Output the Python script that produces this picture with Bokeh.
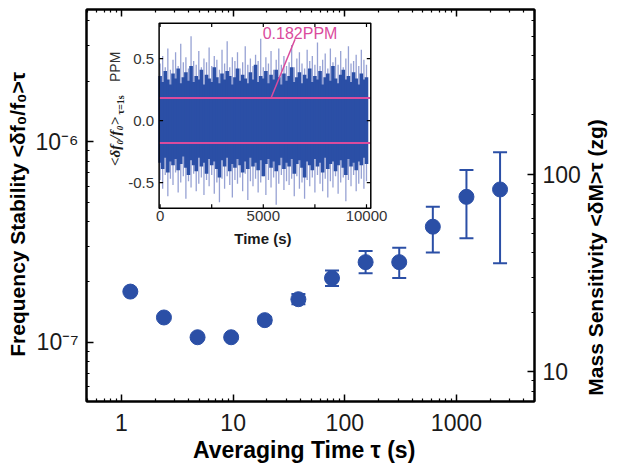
import math
from bokeh.plotting import figure
from bokeh.models import (LogAxis, Range1d, LinearScale, LogScale, FixedTicker,
                          CustomJSTickFormatter, Whisker, ColumnDataSource, TeeHead)
from bokeh.embed import file_html
from bokeh.resources import INLINE
from bokeh.core.properties import value

# ---------------- data ----------------
tau_s = [1.2, 2.4, 4.8, 9.6, 19.2, 38.4, 76.8, 153.6, 307.2, 614.4, 1228.8, 2457.6]
stability = [1.79e-7, 1.33e-7, 1.06e-7, 1.06e-7, 1.29e-7, 1.64e-7,
             2.09e-7, 2.51e-7, 2.51e-7, 3.77e-7, 5.31e-7, 5.78e-7]
stability_upper = [1.81e-7, 1.35e-7, 1.08e-7, 1.08e-7, 1.34e-7, 1.74e-7,
                   2.28e-7, 2.85e-7, 2.96e-7, 4.74e-7, 7.22e-7, 8.87e-7]
stability_lower = [1.77e-7, 1.31e-7, 1.04e-7, 1.04e-7, 1.24e-7, 1.55e-7,
                   1.91e-7, 2.21e-7, 2.09e-7, 2.80e-7, 3.30e-7, 2.48e-7]

x_major_ticks = [1, 10, 100, 1000]
x_minor_ticks = [0.5, 0.6, 0.7, 0.8, 0.9, 2, 3, 4, 5, 6, 7, 8, 9,
                 20, 30, 40, 50, 60, 70, 80, 90, 200, 300, 400, 500, 600, 700, 800, 900,
                 2000, 3000, 4000, 5000]
y_major_ticks = [1e-7, 1e-6]
y_minor_ticks = [6e-8, 7e-8, 8e-8, 9e-8, 2e-7, 3e-7, 4e-7, 5e-7, 6e-7, 7e-7, 8e-7, 9e-7,
                 2e-6, 3e-6, 4e-6]
mass_major_ticks = [10, 100]
mass_minor_ticks = [8, 9, 20, 30, 40, 50, 60, 70, 80, 90, 200, 300, 400, 500, 600]

# inset: frequency noise trace (ppm) sampled every 125 s
noise_t = list(range(0, 10001, 125))
noise_dark_hi = [0.36, 0.31, 0.40, 0.33, 0.29, 0.38, 0.34, 0.42, 0.30, 0.35,
                 0.39, 0.32, 0.44, 0.31, 0.36, 0.33, 0.41, 0.29, 0.37, 0.34,
                 0.31, 0.43, 0.35, 0.30, 0.38, 0.33, 0.40, 0.36, 0.29, 0.35,
                 0.42, 0.32, 0.37, 0.34, 0.30, 0.39, 0.33, 0.45, 0.31, 0.36,
                 0.34, 0.40, 0.30, 0.37, 0.33, 0.41, 0.35, 0.29, 0.38, 0.32,
                 0.36, 0.43, 0.31, 0.35, 0.39, 0.30, 0.37, 0.34, 0.42, 0.31,
                 0.36, 0.33, 0.40, 0.29, 0.35, 0.38, 0.32, 0.44, 0.34, 0.30,
                 0.37, 0.41, 0.33, 0.36, 0.31, 0.39, 0.34, 0.29, 0.38, 0.33,
                 0.35]
noise_dark_lo = [-0.34, -0.39, -0.30, -0.42, -0.33, -0.36, -0.31, -0.40, -0.35, -0.29,
                 -0.38, -0.44, -0.32, -0.36, -0.41, -0.30, -0.37, -0.34, -0.43, -0.31,
                 -0.36, -0.33, -0.39, -0.46, -0.32, -0.37, -0.30, -0.41, -0.35, -0.38,
                 -0.31, -0.36, -0.42, -0.33, -0.39, -0.30, -0.37, -0.34, -0.40, -0.32,
                 -0.45, -0.35, -0.31, -0.38, -0.33, -0.41, -0.36, -0.30, -0.39, -0.34,
                 -0.37, -0.31, -0.43, -0.35, -0.32, -0.38, -0.46, -0.33, -0.36, -0.40,
                 -0.31, -0.37, -0.34, -0.42, -0.30, -0.39, -0.35, -0.33, -0.41, -0.36,
                 -0.32, -0.38, -0.44, -0.31, -0.37, -0.34, -0.40, -0.33, -0.36, -0.30,
                 -0.35]
noise_light_hi = [0.46, 0.52, 0.43, 0.58, 0.41, 0.49, 0.55, 0.44, 0.62, 0.47,
                  0.51, 0.42, 0.68, 0.48, 0.45, 0.56, 0.43, 0.50, 0.47, 0.59,
                  0.44, 0.52, 0.49, 0.41, 0.57, 0.46, 0.64, 0.43, 0.51, 0.48,
                  0.55, 0.42, 0.47, 0.60, 0.45, 0.50, 0.44, 0.53, 0.48, 0.66,
                  0.43, 0.51, 0.46, 0.56, 0.41, 0.49, 0.58, 0.45, 0.52, 0.44,
                  0.47, 0.61, 0.43, 0.50, 0.55, 0.46, 0.42, 0.57, 0.48, 0.52,
                  0.45, 0.63, 0.44, 0.49, 0.54, 0.42, 0.58, 0.47, 0.51, 0.45,
                  0.56, 0.43, 0.50, 0.60, 0.46, 0.48, 0.53, 0.44, 0.57, 0.49,
                  0.45]
noise_light_lo = [-0.48, -0.55, -0.44, -0.61, -0.47, -0.52, -0.42, -0.58, -0.50, -0.45,
                  -0.63, -0.49, -0.54, -0.43, -0.57, -0.51, -0.46, -0.60, -0.48, -0.53,
                  -0.44, -0.59, -0.50, -0.66, -0.47, -0.55, -0.45, -0.52, -0.62, -0.48,
                  -0.51, -0.46, -0.57, -0.43, -0.64, -0.49, -0.53, -0.47, -0.58, -0.50,
                  -0.45, -0.60, -0.48, -0.54, -0.46, -0.68, -0.51, -0.44, -0.56, -0.49,
                  -0.52, -0.47, -0.61, -0.45, -0.55, -0.50, -0.63, -0.48, -0.53, -0.46,
                  -0.58, -0.44, -0.51, -0.57, -0.47, -0.62, -0.49, -0.54, -0.45, -0.59,
                  -0.50, -0.46, -0.65, -0.48, -0.53, -0.44, -0.57, -0.51, -0.47, -0.55,
                  -0.49]
noise_std_ppm = 0.182
inset_x_ticks = [0, 2500, 5000, 7500, 10000]
inset_x_labels = ["0", "5000", "10000"]
inset_x_label_pos = [0, 5000, 10000]
inset_y_ticks = [-0.5, 0.0, 0.5]
inset_y_labels = ["-0.5", "0.0", "0.5"]

# ---------------- style / layout ----------------
BLUE = "#2b4fa6"
LIGHT = "#97a2d4"
PINK = "#da4b9d"
SANS = "Liberation Sans"
SERIF = "Liberation Serif"
TICK = "23px"
NBSP = "\u00a0"

FW, FH = 448, 392
X_RANGE = (0.486, 5000)
Y_RANGE = (5.07e-8, 4.56e-6)
M_RANGE = (7.08, 681)

# inset placed inside the main frame through linear extra ranges
IX = (-3566, 18140)
IY = (-2.266, 0.8955)
IN_L, IN_R, IN_B, IN_T = -48, 10208, -0.7065, 0.7855
TL_X, TL_Y = 194, 0.032   # inset tick lengths (4 px)

p = figure(frame_width=FW, frame_height=FH, x_axis_type="log", y_axis_type="log",
           x_range=X_RANGE, y_range=Y_RANGE, output_backend="svg", toolbar_location=None,
           min_border_left=86, min_border_right=85, min_border_top=9, min_border_bottom=65,
           background_fill_color="white", border_fill_color="white")
p.xgrid.visible = False
p.ygrid.visible = False
p.outline_line_color = "black"
p.outline_line_width = 2

p.extra_y_ranges = {"mass": Range1d(*M_RANGE), "iy": Range1d(*IY)}
p.extra_y_scales = {"mass": LogScale(), "iy": LinearScale()}
p.extra_x_ranges = {"ix": Range1d(*IX)}
p.extra_x_scales = {"ix": LinearScale()}

empty = CustomJSTickFormatter(code="return ''")
integer = CustomJSTickFormatter(code="return String(Math.round(tick));")
power10 = CustomJSTickFormatter(code="""
const e = Math.round(Math.log10(tick));
const sup = {'-': '\u207b', '0': '\u2070', '1': '\u00b9', '2': '\u00b2', '3': '\u00b3',
             '4': '\u2074', '5': '\u2075', '6': '\u2076', '7': '\u2077', '8': '\u2078', '9': '\u2079'};
return '10' + String(e).split('').map(c => sup[c]).join('');
""")


def style_axis(ax, title_size="22px"):
    ax.axis_line_color = "black"
    ax.axis_line_width = 2
    ax.major_tick_in = 7
    ax.major_tick_out = 0
    ax.minor_tick_in = 3
    ax.minor_tick_out = 0
    ax.major_tick_line_width = 1.5
    ax.minor_tick_line_width = 1.2
    ax.major_label_text_font = SANS
    ax.major_label_text_font_size = TICK
    ax.major_label_text_color = "#1a1a1a"
    ax.axis_label_text_font = SANS
    ax.axis_label_text_font_size = title_size
    ax.axis_label_text_font_style = "bold"
    ax.axis_label_text_color = "black"


xa = p.xaxis[0]
style_axis(xa, "23px")
xa.ticker = FixedTicker(ticks=x_major_ticks, minor_ticks=x_minor_ticks)
xa.formatter = integer
xa.major_label_standoff = 12
xa.axis_label = "Averaging Time  τ  (s)"
xa.axis_label_standoff = 3

ya = p.yaxis[0]
style_axis(ya, "21px")
ya.ticker = FixedTicker(ticks=y_major_ticks, minor_ticks=y_minor_ticks)
ya.formatter = power10
ya.major_label_standoff = 8
ya.axis_label = "Frequency Stability <δf\u2080/f\u2080>τ" + NBSP * 3
ya.axis_label_standoff = 3

top = LogAxis(ticker=FixedTicker(ticks=x_major_ticks, minor_ticks=x_minor_ticks),
              formatter=empty)
style_axis(top)
top.major_label_standoff = 0
top.major_label_text_font_size = "1px"
p.add_layout(top, "above")

right = LogAxis(y_range_name="mass",
                ticker=FixedTicker(ticks=mass_major_ticks, minor_ticks=mass_minor_ticks),
                formatter=integer)
style_axis(right, "21px")
right.major_label_standoff = 8
right.axis_label = NBSP + "Mass Sensitivity <δM>τ (zg)"
right.axis_label_standoff = 12
try:
    right.axis_label_orientation = math.pi / 2
except Exception:
    pass
try:
    right.axis_label_align = "start"
except Exception:
    pass
p.add_layout(right, "right")

# ---------------- main data ----------------
src = ColumnDataSource(dict(x=tau_s, y=stability, hi=stability_upper, lo=stability_lower))
p.add_layout(Whisker(base="x", upper="hi", lower="lo", source=src, line_color=BLUE,
                     line_width=2,
                     upper_head=TeeHead(size=14, line_color=BLUE, line_width=2),
                     lower_head=TeeHead(size=14, line_color=BLUE, line_width=2)))
p.scatter("x", "y", source=src, size=15, fill_color=BLUE, line_color=BLUE)

# ---------------- inset ----------------
kw = dict(x_range_name="ix", y_range_name="iy")
R = math.pi / 2
p.quad(left=[IN_L], right=[IN_R], bottom=[IN_B], top=[IN_T], fill_color="white",
       line_color=None, **kw)
p.segment(x0=noise_t, y0=[0] * len(noise_t), x1=noise_t, y1=noise_light_hi,
          line_color=LIGHT, line_width=1.3, **kw)
p.segment(x0=noise_t, y0=[0] * len(noise_t), x1=noise_t, y1=noise_light_lo,
          line_color=LIGHT, line_width=1.3, **kw)
p.segment(x0=noise_t, y0=noise_dark_lo, x1=noise_t, y1=noise_dark_hi,
          line_color=BLUE, line_width=3.6, **kw)
p.segment(x0=[IN_L, IN_L], y0=[noise_std_ppm, -noise_std_ppm],
          x1=[IN_R, IN_R], y1=[noise_std_ppm, -noise_std_ppm],
          line_color=PINK, line_width=2, **kw)
# annotation
p.segment(x0=[6539], y0=[0.656], x1=[5374], y1=[noise_std_ppm], line_color=PINK,
          line_width=1.5, **kw)
p.text(x=[4971], y=[0.705], text=[f"{noise_std_ppm}PPM"], text_font=value(SANS),
       text_font_size="16px", text_color=PINK, text_align="left", text_baseline="middle", **kw)
# inset frame + ticks
p.quad(left=[IN_L], right=[IN_R], bottom=[IN_B], top=[IN_T], fill_color=None,
       line_color="black", line_width=1.5, **kw)
n = len(inset_x_ticks)
p.segment(x0=inset_x_ticks, y0=[IN_B] * n, x1=inset_x_ticks, y1=[IN_B + TL_Y] * n,
          line_color="black", line_width=1.2, **kw)
p.segment(x0=inset_x_ticks, y0=[IN_T] * n, x1=inset_x_ticks, y1=[IN_T - TL_Y] * n,
          line_color="black", line_width=1.2, **kw)
m = len(inset_y_ticks)
p.segment(x0=[IN_L] * m, y0=inset_y_ticks, x1=[IN_L + TL_X] * m, y1=inset_y_ticks,
          line_color="black", line_width=1.2, **kw)
p.segment(x0=[IN_R] * m, y0=inset_y_ticks, x1=[IN_R - TL_X] * m, y1=inset_y_ticks,
          line_color="black", line_width=1.2, **kw)
p.text(x=[IN_L] * m, y=inset_y_ticks, text=inset_y_labels, x_offset=-5,
       text_font=value(SANS), text_font_size="15px", text_color="#333333",
       text_align="right", text_baseline="middle", **kw)
p.text(x=inset_x_label_pos, y=[IN_B] * 3, text=inset_x_labels, y_offset=3,
       text_font=value(SANS), text_font_size="15px", text_color="#333333",
       text_align="center", text_baseline="top", **kw)
p.text(x=[(IN_L + IN_R) / 2], y=[IN_B], text=["Time  (s)"], y_offset=22,
       text_font=value(SANS), text_font_size="15px", text_font_style="bold",
       text_color="#1a1a1a", text_align="center", text_baseline="top", **kw)
p.text(x=[IN_L], y=[0.433], text=["PPM"], x_offset=-44, angle=R,
       text_font=value(SANS), text_font_size="14px", text_color="#333333",
       text_align="center", text_baseline="middle", **kw)
p.text(x=[IN_L], y=[-0.168], text=["<δf\u2080/f\u2080>"], x_offset=-44, angle=R,
       text_font=value(SERIF), text_font_size="15px", text_font_style="bold italic",
       text_color="#1a1a1a", text_align="center", text_baseline="middle", **kw)
p.text(x=[IN_L], y=[0.126], text=["τ=1s"], x_offset=-39, angle=R,
       text_font=value(SERIF), text_font_size="10px", text_font_style="bold",
       text_color="#1a1a1a", text_align="center", text_baseline="middle", **kw)

open("out.html", "w").write(file_html(p, INLINE))
